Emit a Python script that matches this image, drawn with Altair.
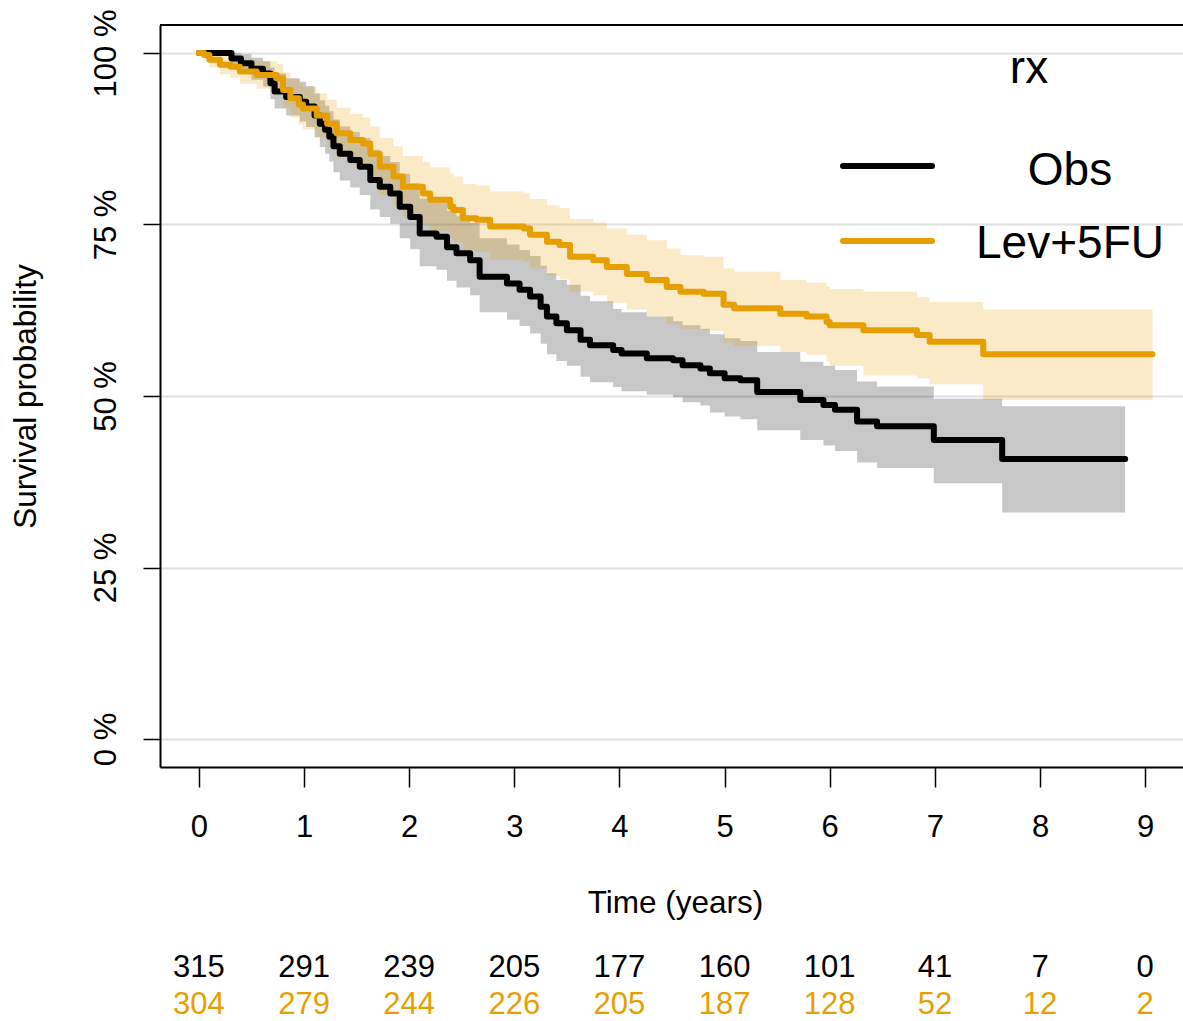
import altair as alt
import pandas as pd

# ---- data (survival in %) ----
obs_time = [0.00, 0.31, 0.40, 0.50, 0.61, 0.68, 0.72, 0.83, 0.96, 1.02, 1.10, 1.15, 1.20, 1.24, 1.28,
            1.34, 1.44, 1.53, 1.63, 1.72, 1.82, 1.91, 2.01, 2.10, 2.26, 2.36, 2.45, 2.58, 2.67, 2.93,
            3.05, 3.15, 3.25, 3.31, 3.40, 3.50, 3.63, 3.72, 3.94, 4.02, 4.26, 4.51, 4.60, 4.77, 4.86,
            5.00, 5.15, 5.31, 5.72, 5.94, 6.05, 6.26, 6.45, 6.99, 7.64, 8.81]
obs_surv = [100.0, 99.2, 98.5, 97.7, 97.0, 95.6, 94.4, 93.6, 92.9, 92.2, 90.9, 89.7, 88.8, 87.8, 86.4,
            85.3, 84.4, 83.4, 81.5, 80.5, 79.5, 77.6, 76.1, 73.7, 73.2, 71.7, 70.8, 69.8, 67.4, 66.4,
            65.5, 64.5, 63.0, 61.6, 60.6, 59.6, 58.2, 57.4, 56.7, 56.2, 55.5, 55.2, 54.5, 54.0, 53.3,
            52.6, 52.3, 50.6, 49.4, 48.7, 48.0, 46.3, 45.6, 43.6, 40.8, 40.8]
obs_lower = [100.0, 98.2, 97.1, 96.1, 95.1, 93.3, 91.9, 90.9, 90.0, 89.2, 87.7, 86.3, 85.3, 84.2, 82.6,
             81.4, 80.4, 79.3, 77.2, 76.1, 75.1, 73.0, 71.4, 68.9, 68.4, 66.8, 65.8, 64.7, 62.2, 61.1,
             60.2, 59.1, 57.6, 56.1, 55.1, 54.4, 52.8, 52.0, 51.3, 50.7, 50.2, 49.8, 49.1, 48.6, 47.6,
             47.0, 46.6, 45.0, 43.6, 42.8, 42.0, 40.3, 39.5, 37.3, 33.0, 33.0]
obs_upper = [100.0, 100.0, 99.8, 99.3, 98.8, 97.9, 97.0, 96.3, 95.8, 95.2, 94.1, 93.1, 92.3, 91.5, 90.3,
             89.3, 88.5, 87.6, 85.9, 85.0, 84.1, 82.4, 81.0, 78.8, 78.4, 77.0, 76.2, 75.2, 73.0, 72.1,
             71.3, 70.4, 69.0, 67.9, 66.9, 66.2, 64.6, 63.8, 62.7, 62.2, 61.6, 60.9, 60.3, 59.8, 59.0,
             58.4, 58.0, 56.4, 55.0, 54.4, 53.8, 52.1, 51.4, 49.6, 48.5, 48.5]

lev_time = [0.00, 0.05, 0.10, 0.20, 0.30, 0.39, 0.55, 0.74, 0.80, 0.87, 0.95, 0.99, 1.12, 1.22, 1.31,
            1.44, 1.56, 1.63, 1.72, 1.85, 1.94, 2.13, 2.20, 2.39, 2.42, 2.51, 2.64, 2.77, 3.09, 3.15,
            3.31, 3.43, 3.53, 3.75, 3.88, 4.07, 4.26, 4.45, 4.58, 4.80, 4.99, 5.09, 5.53, 5.78, 5.97,
            6.00, 6.32, 6.83, 6.95, 7.46, 9.07]
lev_surv = [100.0, 99.7, 99.0, 98.3, 98.0, 97.3, 96.8, 96.3, 94.6, 93.4, 92.5, 91.9, 90.9, 89.7, 88.3,
            87.3, 86.8, 85.3, 83.4, 82.0, 80.5, 79.5, 78.6, 77.6, 77.1, 75.9, 75.7, 74.7, 74.4, 73.5,
            72.5, 72.0, 70.3, 69.8, 68.8, 67.8, 66.9, 65.9, 65.2, 64.9, 63.3, 62.8, 62.0, 61.6, 60.8,
            60.3, 59.6, 58.9, 57.9, 56.1, 56.1]
lev_lower = [100.0, 99.0, 97.9, 96.9, 96.4, 95.5, 94.8, 94.2, 92.1, 90.6, 89.6, 88.9, 87.7, 86.3, 84.8,
             83.7, 83.1, 81.4, 79.3, 77.8, 76.2, 75.1, 74.1, 73.0, 72.5, 71.2, 71.0, 69.9, 69.6, 68.6,
             67.5, 67.0, 65.2, 64.7, 63.6, 62.6, 61.6, 60.5, 59.8, 59.5, 57.8, 57.3, 56.4, 56.0, 55.1,
             54.4, 53.0, 52.6, 51.7, 49.4, 49.4]
lev_upper = [100.0, 100.0, 100.0, 99.7, 99.5, 99.1, 98.8, 98.4, 97.2, 96.2, 95.5, 95.0, 94.1, 93.2, 92.0,
             91.1, 90.6, 89.3, 87.6, 86.4, 85.0, 84.1, 83.3, 82.4, 82.0, 80.9, 80.7, 79.8, 79.5, 78.7,
             77.8, 77.4, 75.8, 75.3, 74.4, 73.5, 72.7, 71.5, 70.5, 70.3, 68.6, 68.1, 66.9, 66.5, 66.0,
             65.6, 65.2, 64.4, 63.7, 62.6, 62.6]

groups = ["Obs", "Lev+5FU"]
colors = ["#000000", "#E69F00"]
risk_times = [0, 1, 2, 3, 4, 5, 6, 7, 8, 9]
risk_obs = [315, 291, 239, 205, 177, 160, 101, 41, 7, 0]
risk_lev = [304, 279, 244, 226, 205, 187, 128, 52, 12, 2]
y_ticks = [0, 25, 50, 75, 100]

# ---- frames ----
obs_df = pd.DataFrame({"t": obs_time, "S": obs_surv, "L": obs_lower, "U": obs_upper, "g": groups[0]})
lev_df = pd.DataFrame({"t": lev_time, "S": lev_surv, "L": lev_lower, "U": lev_upper, "g": groups[1]})
risk_obs_df = pd.DataFrame({"t": risk_times, "n": risk_obs, "g": groups[0]})
risk_lev_df = pd.DataFrame({"t": risk_times, "n": risk_lev, "g": groups[1]})

W, H = 1023, 742
FONT = "Liberation Sans"

cscale = alt.Scale(domain=groups, range=colors)
xscale = alt.Scale(domain=[-0.37, 9.36], nice=False, zero=False)
yscale = alt.Scale(domain=[-4.08, 104.08], nice=False, zero=False)

xaxis = alt.Axis(values=risk_times, title="Time (years)", titleFontSize=31.5, titleFontWeight="normal",
                 titleColor="black", titleX=515, titleY=136, titleAlign="center", titleBaseline="middle",
                 labelFontSize=31, labelColor="black", labelBaseline="middle", labelPadding=40,
                 labelFlush=False, labelOverlap=False, tickSize=20, tickWidth=1.5, tickColor="black",
                 domainColor="black", domainWidth=2, grid=False)
yaxis = alt.Axis(values=y_ticks, labelExpr="datum.value + ' %'", labelAngle=270, labelAlign="center",
                 labelBaseline="middle", labelPadding=37, labelFontSize=31, labelColor="black",
                 labelFlush=False, labelOverlap=False, tickSize=17, tickWidth=1.5, tickColor="black",
                 domainColor="black", domainWidth=2, grid=True, gridColor="#E0E0E0", gridWidth=2,
                 title="Survival probability", titleFontSize=31.5, titleFontWeight="normal", titleColor="black",
                 titleAngle=270, titleX=-134, titleY=371, titleAlign="center", titleBaseline="middle")

X = alt.X("t:Q", scale=xscale, axis=xaxis)
Y = alt.Y("L:Q", scale=yscale, axis=yaxis)
C = alt.Color("g:N", scale=cscale, legend=None)

def band(df):
    return alt.Chart(df).mark_area(interpolate="step-after", opacity=0.22).encode(
        x=X, y=Y, y2="U:Q", color=C)

def line(df):
    return alt.Chart(df).mark_line(interpolate="step-after", strokeWidth=6, strokeCap="round",
                                   strokeJoin="round").encode(
        x=X, y=alt.Y("S:Q", scale=yscale, axis=yaxis), color=C)

def risk(df, ypx):
    return alt.Chart(df).mark_text(fontSize=31, align="center", baseline="alphabetic", font=FONT).encode(
        x=X, y=alt.value(ypx), text="n:N", color=C)

one = pd.DataFrame({"a": [0]})
top_border = alt.Chart(one).mark_rule(color="black", strokeWidth=2).encode(
    x=alt.value(0), x2=alt.value(W), y=alt.value(0))

leg_obs_line = alt.Chart(one).mark_rule(color=colors[0], strokeWidth=6, strokeCap="round").encode(
    x=alt.value(683), x2=alt.value(772), y=alt.value(141))
leg_lev_line = alt.Chart(one).mark_rule(color=colors[1], strokeWidth=6, strokeCap="round").encode(
    x=alt.value(683), x2=alt.value(772), y=alt.value(216))
leg_title = alt.Chart(one).mark_text(fontSize=46, align="center", baseline="alphabetic", font=FONT,
                                     color="black").encode(x=alt.value(869), y=alt.value(58), text=alt.value("rx"))
leg_obs_txt = alt.Chart(one).mark_text(fontSize=46, align="center", baseline="alphabetic", font=FONT,
                                       color="black").encode(x=alt.value(910), y=alt.value(160), text=alt.value(groups[0]))
leg_lev_txt = alt.Chart(one).mark_text(fontSize=46, align="center", baseline="alphabetic", font=FONT,
                                       color="black").encode(x=alt.value(910), y=alt.value(233), text=alt.value(groups[1]))

chart = alt.layer(
    band(obs_df), band(lev_df), line(obs_df), line(lev_df),
    risk(risk_obs_df, 952), risk(risk_lev_df, 989),
    top_border, leg_obs_line, leg_lev_line, leg_title, leg_obs_txt, leg_lev_txt,
).properties(
    width=W, height=H, autosize="none",
    padding={"left": 160, "top": 25, "right": 0, "bottom": 254},
).configure(font=FONT).configure_view(stroke=None)

chart.save("out.html", embed_options={"renderer": "svg", "actions": False})
